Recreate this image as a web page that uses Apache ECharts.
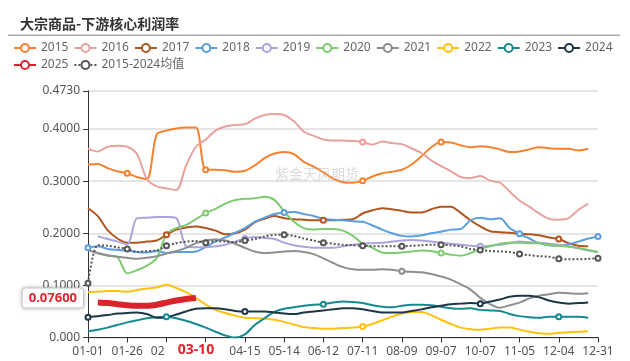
<!DOCTYPE html>
<html><head><meta charset="utf-8">
<script src="https://cdn.jsdelivr.net/npm/echarts@6/dist/echarts.min.js"></script>
<style>html,body{margin:0;padding:0;background:#fff}#c{width:630px;height:361px}</style>
</head><body><div id="c"></div>
<script>
const categories = ['01-01','01-05','01-12','01-19','01-26','02-02','02-09','02-14','02-21','02-25','03-03','03-10','03-17','03-24','03-31','04-08','04-15','04-22','04-29','05-07','05-14','05-21','05-28','06-04','06-12','06-19','06-26','07-03','07-11','07-18','07-25','08-01','08-09','08-16','08-23','08-30','09-07','09-14','09-21','09-28','10-07','10-14','10-21','10-28','11-05','11-12','11-19','11-26','12-04','12-11','12-18','12-25','12-31'];
const yTicks = [0, 0.1, 0.2, 0.3, 0.4, 0.473];
const s2015 = [0.332,0.333,0.325,0.319,0.315,0.308,0.304,0.390,0.397,0.401,0.403,0.403,0.322,0.322,0.321,0.318,0.320,0.330,0.344,0.353,0.356,0.352,0.337,0.328,0.317,0.305,0.298,0.297,0.301,0.309,0.315,0.318,0.322,0.332,0.348,0.365,0.375,0.374,0.369,0.365,0.367,0.365,0.361,0.356,0.357,0.361,0.365,0.363,0.362,0.362,0.359,0.362,null];
const s2016 = [0.362,0.357,0.366,0.368,0.366,0.352,0.304,0.290,0.286,0.283,0.330,0.366,0.380,0.397,0.405,0.408,0.409,0.420,0.427,0.429,0.427,0.415,0.395,0.387,0.380,0.378,0.378,0.377,0.375,0.370,0.376,0.373,0.371,0.363,0.354,0.340,0.329,0.319,0.308,0.306,0.310,0.301,0.297,0.280,0.263,0.251,0.238,0.228,0.226,0.229,0.245,0.257,null];
const s2017 = [0.248,0.233,0.206,0.190,0.182,0.182,0.184,0.186,0.197,0.207,0.211,0.213,0.210,0.205,0.198,0.200,0.207,0.221,0.228,0.233,0.229,0.227,0.226,0.225,0.225,0.225,0.226,0.227,0.238,0.244,0.248,0.246,0.243,0.240,0.240,0.246,0.251,0.251,0.239,0.225,0.213,0.204,0.202,0.201,0.199,0.198,0.196,0.192,0.189,0.181,0.176,0.175,null];
const s2018 = [0.172,0.175,0.170,0.168,0.167,0.164,0.163,0.166,0.162,0.164,0.164,0.165,0.174,0.184,0.192,0.201,0.210,0.222,0.230,0.237,0.240,0.241,0.237,0.233,0.228,0.226,0.225,0.223,0.222,0.215,0.207,0.200,0.195,0.194,0.196,0.200,0.203,0.207,0.208,0.225,0.230,0.227,0.229,0.210,0.199,0.190,0.181,0.177,0.176,0.179,0.184,0.190,0.194];
const s2019 = [null,0.194,0.189,0.184,0.179,0.229,0.230,0.231,0.231,0.229,0.175,0.173,0.173,0.175,0.178,0.184,0.190,0.193,0.191,0.189,0.182,0.177,0.174,0.172,0.172,0.172,0.175,0.178,0.180,0.181,0.182,0.184,0.186,0.187,0.186,0.184,0.182,0.180,0.178,0.176,0.175,0.176,0.178,0.181,0.184,0.183,0.182,0.180,0.178,0.175,0.171,0.167,0.163];
const s2020 = [null,0.161,0.157,0.154,0.123,0.129,0.138,0.152,0.198,0.210,0.216,0.227,0.239,0.247,0.257,0.264,0.266,0.267,0.270,0.264,0.242,0.222,0.210,0.207,0.208,0.208,0.205,0.195,0.180,0.172,0.163,0.162,0.163,0.165,0.167,0.166,0.162,0.159,0.157,0.162,0.170,0.175,0.180,0.182,0.182,0.181,0.181,0.178,0.176,0.174,0.172,0.168,0.164];
const s2021 = [0.168,0.162,0.158,0.155,0.153,0.151,0.153,0.156,0.161,0.166,0.172,0.181,0.186,0.188,0.186,0.180,0.172,0.165,0.162,0.163,0.165,0.166,0.164,0.160,0.152,0.143,0.135,0.131,0.130,0.130,0.131,0.130,0.127,0.126,0.125,0.122,0.117,0.111,0.102,0.092,0.076,0.064,0.057,0.062,0.067,0.075,0.080,0.083,0.086,0.085,0.084,0.085,null];
const s2022 = [0.087,0.088,0.089,0.089,0.088,0.091,0.094,0.096,0.101,0.095,0.087,0.076,0.063,0.053,0.047,0.042,0.038,0.037,0.036,0.034,0.030,0.025,0.020,0.018,0.017,0.017,0.018,0.019,0.021,0.026,0.033,0.040,0.046,0.049,0.049,0.043,0.034,0.026,0.019,0.016,0.015,0.017,0.019,0.019,0.015,0.011,0.008,0.007,0.009,0.010,0.011,0.012,null];
const s2023 = [0.012,0.015,0.019,0.024,0.029,0.033,0.037,0.039,0.040,0.037,0.032,0.026,0.019,0.011,0.004,0.000,0.006,0.024,0.037,0.049,0.055,0.058,0.061,0.063,0.064,0.067,0.069,0.068,0.066,0.062,0.059,0.058,0.061,0.063,0.063,0.062,0.059,0.056,0.055,0.056,0.053,0.052,0.051,0.045,0.041,0.039,0.038,0.040,0.040,0.040,0.040,0.038,null];
const s2024 = [0.039,0.041,0.043,0.046,0.047,0.048,0.045,0.038,0.039,0.044,0.050,0.055,0.056,0.056,0.054,0.051,0.050,0.050,0.050,0.048,0.046,0.045,0.048,0.050,0.052,0.054,0.056,0.056,0.054,0.051,0.048,0.048,0.048,0.051,0.054,0.058,0.061,0.064,0.065,0.066,0.065,0.069,0.073,0.078,0.080,0.080,0.077,0.071,0.067,0.065,0.066,0.067,null];
const s2025 = [null,0.067,0.066,0.064,0.062,0.061,0.061,0.063,0.067,0.071,0.074,0.076];
const sAvg = [0.104,0.177,0.176,0.173,0.170,0.164,0.166,0.167,0.176,0.181,0.184,0.185,0.182,0.185,0.184,0.183,0.186,0.189,0.194,0.197,0.197,0.195,0.190,0.186,0.182,0.180,0.178,0.177,0.176,0.175,0.175,0.175,0.175,0.176,0.177,0.178,0.178,0.177,0.175,0.170,0.168,0.166,0.165,0.164,0.160,0.158,0.156,0.155,0.151,0.150,0.150,0.151,0.152];
const seriesNames = ['2015','2016','2017','2018','2019','2020','2021','2022','2023','2024','2025','2015-2024均值'];
const seriesValues = [s2015,s2016,s2017,s2018,s2019,s2020,s2021,s2022,s2023,s2024,s2025,sAvg];
const currentDate = '03-10';
const currentValue = 0.076;
const watermark = '紫金天风期货';
const titleText = '大宗商品-下游核心利润率';

// styling
const colors = ['#f7812e','#e8a29e','#b0561e','#5b9ee0','#aaa3dc','#7dcb6f','#8f8f8f','#ffc10f','#158a8e','#1d3646','#d9232d','#555555'];
const markerIdx = [[4,12,28,36],[28],[8,24,48],[0,20,44,52],[16,40],[12,36],[32],[28],[8,24,48],[0,16,40],[],[0,4,8,12,16,20,24,28,32,36,40,44,48,52]];
const lastIdx = categories.length - 1;
const showLabel = (i) => i % 4 === 0 || i === lastIdx;

const series = seriesNames.map((name, k) => {
  const isAvg = k === 11, isCur = k === 10;
  return {
    name, type: 'line', smooth: 0.3,
    symbol: 'emptyCircle', symbolSize: 5, showAllSymbol: true,
    data: seriesValues[k].map((v, i) => ({ value: v, symbol: markerIdx[k].includes(i) ? 'emptyCircle' : 'none' })),
    lineStyle: { width: isCur ? 6 : 2, color: colors[k], type: isAvg ? 'dotted' : 'solid' },
    itemStyle: { color: colors[k], borderWidth: 1 },
    emphasis: { disabled: true },
    z: isCur ? 5 : (isAvg ? 4 : 2)
  };
});

const chart = echarts.init(document.getElementById('c'));
chart.setOption({
  animation: false,
  textStyle: { fontFamily: 'Noto Sans, "Noto Sans CJK SC", sans-serif' },
  color: colors,
  title: { text: titleText, left: 15, top: 12, textStyle: { fontSize: 14, fontWeight: 'bold', color: '#333', fontFamily: '"Noto Sans CJK SC", sans-serif' } },
  graphic: [
    { type: 'rect', left: 8, top: 34.5, z: 50, shape: { width: 612, height: 1.5 }, style: { fill: '#aaaaaa' } },
    { type: 'text', left: 275, top: 167, z: 100, style: { text: watermark, font: '14px "Noto Sans CJK SC"', fill: 'rgba(185,185,185,0.5)' } }
  ],
  legend: {
    top: 37, left: 8, width: 620, itemWidth: 22, itemHeight: 10, itemGap: 5,
    textStyle: { fontSize: 12, color: '#666' }, data: seriesNames
  },
  grid: { left: 88, right: 32, top: 91, bottom: 23.5 },
  xAxis: {
    type: 'category', boundaryGap: false, data: categories,
    axisLine: { lineStyle: { color: '#333' } },
    axisTick: { interval: (i) => showLabel(i), length: 5, lineStyle: { color: '#333' } },
    axisLabel: { interval: (i) => showLabel(i), color: '#555', fontSize: 12, margin: 8 },
    axisPointer: {
      show: true, type: 'line', value: categories.indexOf(currentDate), status: 'show', triggerTooltip: false,
      lineStyle: { opacity: 0 },
      label: { show: true, color: '#e0242b', fontWeight: 'bold', fontSize: 14, backgroundColor: '#fff', padding: [1, 13], margin: 5 }
    }
  },
  yAxis: {
    type: 'value', min: yTicks[0], max: yTicks[yTicks.length - 1], interval: yTicks[1],
    axisLine: { show: true, lineStyle: { color: '#333' } },
    axisTick: { show: true, length: 5, lineStyle: { color: '#333' } },
    axisLabel: { color: '#555', fontSize: 12, margin: 8, formatter: (v) => v === 0 ? '0.000' : v.toFixed(4) },
    splitLine: { lineStyle: { color: '#ddd', width: 1.5 } },
    axisPointer: {
      show: true, type: 'line', value: currentValue, status: 'show', triggerTooltip: false,
      lineStyle: { opacity: 0 },
      label: { show: true, precision: 5, color: '#e0242b', fontWeight: 'bold', fontSize: 13, backgroundColor: '#fff', borderColor: '#ddd', borderWidth: 1, shadowBlur: 4, shadowColor: 'rgba(0,0,0,0.25)', padding: [3, 6], margin: 5 }
    }
  },
  series
});
</script></body></html>
